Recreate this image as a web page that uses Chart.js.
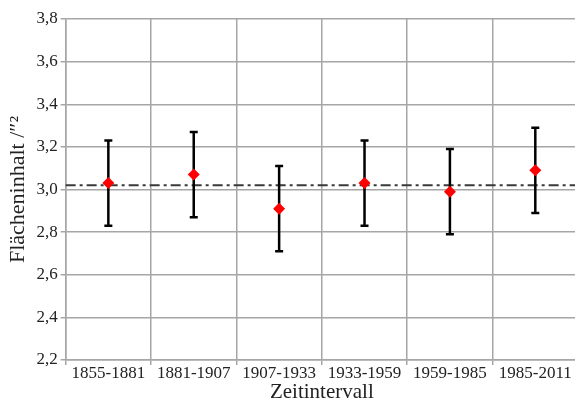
<!DOCTYPE html>
<html>
<head>
<meta charset="utf-8">
<script src="https://cdn.jsdelivr.net/npm/chart.js@4"></script>
<style>
  html, body { margin: 0; padding: 0; background: #fff; overflow: hidden; }
  #wrap { width: 584px; height: 403px; }
</style>
</head>
<body>
<div id="wrap"><canvas id="chart"></canvas></div>
<script>
const categories = ['1855-1881', '1881-1907', '1907-1933', '1933-1959', '1959-1985', '1985-2011'];
const meanValues = [3.03, 3.07, 2.91, 3.03, 2.99, 3.09];
const lowerValues = [2.83, 2.87, 2.71, 2.83, 2.79, 2.89];
const upperValues = [3.23, 3.27, 3.11, 3.23, 3.19, 3.29];
const referenceValue = 3.02;

const serif = "'Liberation Serif', 'DejaVu Serif', serif";
const gridColor = '#a6a6a6';

// horizontal dash-dot reference line across the plot
const referenceLine = {
    id: 'referenceLine',
    beforeDatasetsDraw(chart){
        const {ctx, chartArea, scales} = chart;
        const y = scales.y.getPixelForValue(referenceValue);
        ctx.save();
        ctx.strokeStyle = '#3a3a3a';
        ctx.lineWidth = 2;
        ctx.setLineDash([10, 4, 3, 4]);
        ctx.beginPath();
        ctx.moveTo(chartArea.left, y);
        ctx.lineTo(chartArea.right, y);
        ctx.stroke();
        ctx.restore();
    }
};

// vertical error bars with caps
const errorBars = {
    id: 'errorBars',
    beforeDatasetsDraw(chart){
        const {ctx, scales} = chart;
        ctx.save();
        ctx.strokeStyle = '#000';
        ctx.lineWidth = 2.5;
        categories.forEach((cat, i) => {
            const x = scales.x.getPixelForValue(i);
            const yTop = scales.y.getPixelForValue(upperValues[i]);
            const yBottom = scales.y.getPixelForValue(lowerValues[i]);
            ctx.beginPath();
            ctx.moveTo(x, yTop);
            ctx.lineTo(x, yBottom);
            ctx.moveTo(x - 4, yTop);
            ctx.lineTo(x + 4, yTop);
            ctx.moveTo(x - 4, yBottom);
            ctx.lineTo(x + 4, yBottom);
            ctx.stroke();
        });
        ctx.restore();
    }
};

new Chart(document.getElementById('chart'), {
    type: 'line',
    data: {
        labels: categories,
        datasets: [{
            data: meanValues,
            showLine: false,
            pointStyle: 'rectRot',
            pointRadius: 6,
            pointBackgroundColor: '#ff0000',
            pointBorderColor: '#ff0000',
            pointBorderWidth: 0
        }]
    },
    options: {
        responsive: true,
        maintainAspectRatio: false,
        animation: false,
        layout: { padding: { top: 19, right: 0, left: 1, bottom: 0 } },
        plugins: {
            legend: { display: false },
            tooltip: { enabled: false }
        },
        scales: {
            x: {
                offset: true,
                grid: { offset: true, color: gridColor, lineWidth: 1.5, tickLength: 5 },
                border: { color: gridColor, width: 1.5 },
                ticks: { color: '#222', font: { family: serif, size: 17, lineHeight: 1 }, maxRotation: 0, padding: 0 },
                title: { display: true, text: 'Zeitintervall', color: '#222', font: { family: serif, size: 21, lineHeight: 1 }, padding: { top: 0, bottom: 0 } }
            },
            y: {
                min: 2.2,
                max: 3.8,
                grid: { color: gridColor, lineWidth: 1.5, tickLength: 5 },
                border: { color: gridColor, width: 1.5 },
                ticks: {
                    stepSize: 0.2,
                    color: '#222',
                    font: { family: serif, size: 17 },
                    padding: 3,
                    callback: value => value.toFixed(1).replace('.', ',')
                },
                title: { display: true, text: 'Flächeninhalt /″²', color: '#222', font: { family: serif, size: 22 }, padding: { bottom: 2 } }
            }
        }
    },
    plugins: [referenceLine, errorBars]
});
</script>
</body>
</html>
